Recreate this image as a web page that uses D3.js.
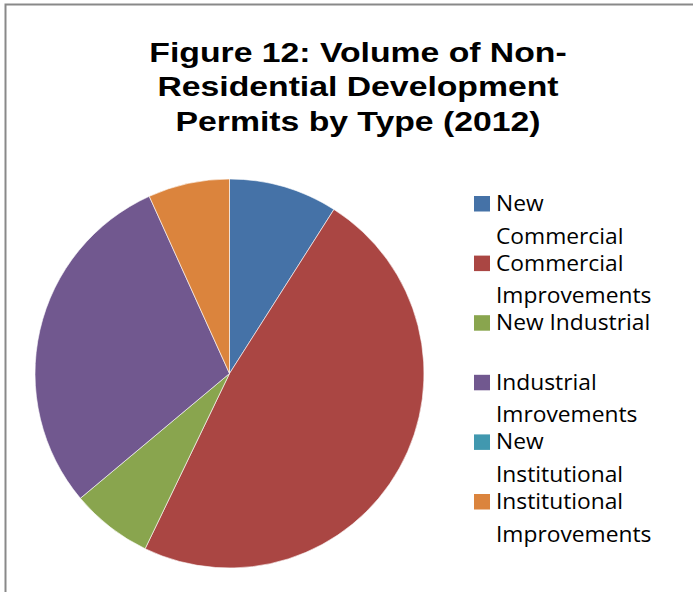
<!DOCTYPE html>
<html>
<head>
<meta charset="utf-8">
<script src="https://cdn.jsdelivr.net/npm/d3@7"></script>
<style>
  html, body { margin: 0; padding: 0; background: #fff; }
  svg { display: block; }
</style>
</head>
<body>
<svg id="chart" width="693" height="592"></svg>
<script>
// Permit categories and counts for 2012
const categories = [
  "New Commercial",
  "Commercial Improvements",
  "New Industrial",
  "Industrial Imrovements",
  "New Institutional",
  "Institutional Improvements"
];
const legendLines = [
  ["New", "Commercial"],
  ["Commercial", "Improvements"],
  ["New Industrial", ""],
  ["Industrial", "Imrovements"],
  ["New", "Institutional"],
  ["Institutional", "Improvements"]
];
const permits = [12, 64, 9, 39, 0, 9];
const colors = ["#4572A7", "#AA4643", "#89A54E", "#71588F", "#4198AF", "#DB843D"];
const titleLines = ["Figure 12: Volume of Non-", "Residential Development", "Permits by Type (2012)"];

const svg = d3.select("#chart");
const W = 693, H = 592;

// chart frame (left and top edges)
svg.append("path")
  .attr("d", `M5.5,${H} V4.5 H${W}`)
  .attr("fill", "none")
  .attr("stroke", "#898989")
  .attr("stroke-width", 2);

// title
const title = svg.append("text")
  .attr("font-family", "'Liberation Sans', Arial, sans-serif")
  .attr("font-weight", "bold")
  .attr("font-size", 27)
  .attr("fill", "#000")
  .attr("text-anchor", "middle")
  .attr("transform", "translate(358,0) scale(1.25,1)");
title.selectAll("tspan").data(titleLines).join("tspan")
  .attr("x", 0)
  .attr("y", (d, i) => 61.7 + i * 34.6)
  .text(d => d);

// pie
const cx = 229.5, cy = 373.5, r = 194.5;
const color = d3.scaleOrdinal().domain(categories).range(colors);
const pie = d3.pie().sort(null).value(d => d.v);
const arc = d3.arc().innerRadius(0).outerRadius(r);
const data = categories.map((c, i) => ({ c, v: permits[i] }));

svg.append("g")
  .attr("transform", `translate(${cx},${cy})`)
  .selectAll("path")
  .data(pie(data).filter(d => d.data.v > 0))
  .join("path")
  .attr("d", arc)
  .attr("fill", d => color(d.data.c))
  .attr("stroke", "#fff")
  .attr("stroke-width", 0.6);

// legend
const legend = svg.append("g").attr("transform", "translate(474,0)");
const entryY = d3.scaleLinear().domain([0, 1]).range([196, 255.6]);
const items = legend.selectAll("g").data(categories).join("g")
  .attr("transform", (d, i) => `translate(0,${entryY(i)})`);
items.append("rect")
  .attr("width", 16).attr("height", 15.5)
  .attr("fill", d => color(d));
items.append("text")
  .attr("font-family", "'Open Sans', 'Noto Sans', sans-serif")
  .attr("font-size", 21.5)
  .attr("fill", "#000")
  .attr("transform", "translate(22,0) scale(1.06,1)")
  .selectAll("tspan")
  .data((d, i) => legendLines[i])
  .join("tspan")
  .attr("x", 0)
  .attr("y", (d, j) => 15 + j * 32.6)
  .text(d => d);
</script>
</body>
</html>
